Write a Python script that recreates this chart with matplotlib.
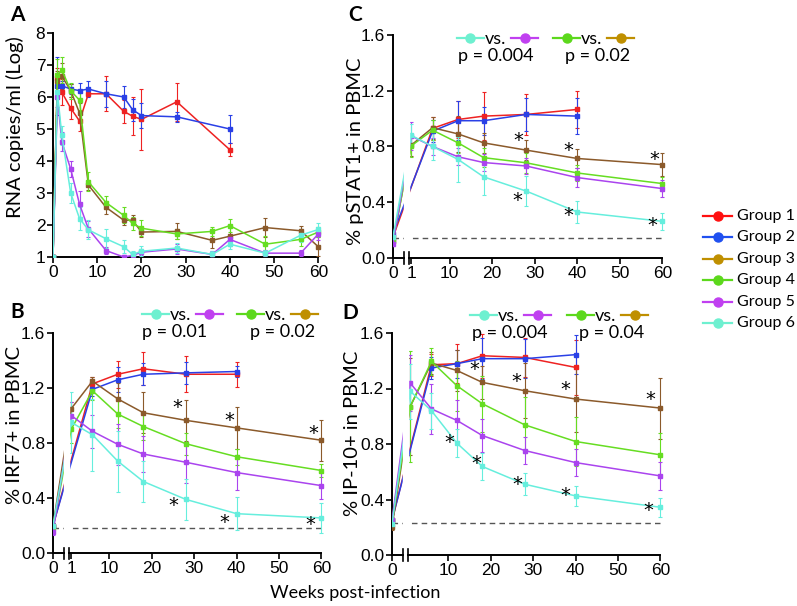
import matplotlib
matplotlib.use("Agg")
import matplotlib.pyplot as plt
from matplotlib.lines import Line2D
import numpy as np

plt.rcParams['font.family'] = ['Lato', 'DejaVu Sans']
TICKFONT = ['Liberation Sans Narrow', 'Liberation Sans', 'DejaVu Sans']

# ---- colours
LINE_COL = {1: '#ee2222', 2: '#2a40e6', 3: '#8b5a2b', 4: '#66dd22', 5: '#aa44ee', 6: '#66eedd'}
KEY_COL = {1: '#ff1010', 2: '#2050f0', 3: '#bf8f00', 4: '#5cd81c', 5: '#c040f0', 6: '#6ef0d0'}

# ---- panel A: RNA copies/ml (Log)
a_t12 = [0, 1, 2, 4, 6, 8, 12, 16, 18, 20, 28, 40]
a_t = [0, 1, 2, 4, 6, 8, 12, 16, 18, 20, 28, 36, 40, 48, 56, 60]
a_g1 = [1, 6.6, 6.15, 5.65, 5.25, 6.1, 6.1, 5.55, 5.4, 5.3, 5.85, 4.35]
a_g1_err = [0, 0.3, 0.4, 0.35, 0.3, 0.05, 0.55, 0.35, 0.6, 0.95, 0.6, 0.2]
a_g2 = [1, 6.35, 6.35, 6.25, 6.2, 6.25, 6.1, 6.0, 5.6, 5.42, 5.38, 5.0]
a_g2_err = [0, 0.9, 0.15, 0.15, 0.25, 0.25, 0.4, 0.35, 0.35, 0.4, 0.15, 0.45]
a_g3 = [1, 6.5, 6.65, 6.2, 5.5, 3.25, 2.55, 2.15, 2.15, 1.78, 1.8, 1.52, 1.65, 1.92, 1.82, 1.32]
a_g3_err = [0, 0.3, 0.4, 0.2, 0.3, 0.15, 0.2, 0.15, 0.15, 0.15, 0.25, 0.25, 0.3, 0.3, 0.15, 0.3]
a_g4 = [1, 6.7, 6.85, 6.2, 5.9, 3.35, 2.7, 2.3, 2.05, 1.9, 1.72, 1.8, 1.98, 1.4, 1.55, 1.78]
a_g4_err = [0, 0.5, 0.4, 0.25, 0.3, 0.3, 0.2, 0.25, 0.2, 0.25, 0.15, 0.15, 0.2, 0.25, 0.2, 0.15]
a_g5 = [1, 6.0, 4.6, 3.75, 2.65, 1.88, 1.2, 1.0, 1.05, 1.15, 1.25, 1.08, 1.55, 1.12, 1.12, 1.72]
a_g5_err = [0, 0.3, 0.3, 0.25, 0.4, 0.25, 0.1, 0.05, 0.1, 0.1, 0.15, 0.1, 0.1, 0.1, 0.1, 0.2]
a_g6 = [1, 6.15, 4.8, 3.0, 2.2, 1.85, 1.57, 1.32, 1.08, 1.18, 1.28, 1.08, 1.4, 1.12, 1.68, 1.86]
a_g6_err = [0, 0.2, 0.3, 0.3, 0.35, 0.3, 0.3, 0.2, 0.1, 0.15, 0.15, 0.1, 0.15, 0.1, 0.2, 0.2]

# ---- panels B-D: week 0 is drawn left of an axis break
ZERO_POS = -3.3
X_MAX = 60.6
t12 = [0, 6, 12, 18, 28, 40]
t = [0, 1, 6, 12, 18, 28, 40, 60]

# B: % IRF7+ in PBMC
b_g1 = [0.2, 1.23, 1.30, 1.34, 1.30, 1.30]
b_g1_err = [0.02, 0.05, 0.10, 0.12, 0.13, 0.09]
b_g2 = [0.2, 1.19, 1.26, 1.30, 1.31, 1.32]
b_g2_err = [0.02, 0.05, 0.09, 0.08, 0.08, 0.04]
b_g3 = [0.2, 1.05, 1.25, 1.12, 1.02, 0.965, 0.91, 0.82]
b_g3_err = [0.02, 0.05, 0.03, 0.12, 0.15, 0.15, 0.15, 0.15]
b_g4 = [0.18, 0.9, 1.18, 1.01, 0.92, 0.795, 0.70, 0.60]
b_g4_err = [0.02, 0.1, 0.07, 0.1, 0.1, 0.08, 0.06, 0.05]
b_g5 = [0.15, 1.0, 0.885, 0.79, 0.72, 0.66, 0.585, 0.49]
b_g5_err = [0.02, 0.1, 0.12, 0.15, 0.13, 0.15, 0.13, 0.1]
b_g6 = [0.2, 0.95, 0.86, 0.667, 0.52, 0.39, 0.286, 0.255]
b_g6_err = [0.02, 0.22, 0.26, 0.22, 0.15, 0.15, 0.12, 0.11]
b_base = 0.18
b_star_x = [26.1, 38.2, 58.0, 25.1, 37.2, 57.4]
b_star_y = [1.055, 0.965, 0.87, 0.344, 0.22, 0.205]

# C: % pSTAT1+ in PBMC
c_g1 = [0.15, 0.93, 0.994, 1.018, 1.03, 1.066]
c_g1_err = [0.02, 0.08, 0.13, 0.17, 0.15, 0.13]
c_g2 = [0.175, 0.91, 0.985, 0.985, 1.03, 1.018]
c_g2_err = [0.02, 0.08, 0.14, 0.10, 0.12, 0.13]
c_g3 = [0.12, 0.81, 0.935, 0.89, 0.826, 0.774, 0.714, 0.67]
c_g3_err = [0.02, 0.08, 0.08, 0.13, 0.07, 0.07, 0.07, 0.08]
c_g4 = [0.12, 0.805, 0.917, 0.826, 0.72, 0.683, 0.61, 0.534]
c_g4_err = [0.02, 0.08, 0.07, 0.07, 0.07, 0.07, 0.06, 0.05]
c_g5 = [0.103, 0.875, 0.80, 0.726, 0.685, 0.66, 0.577, 0.498]
c_g5_err = [0.02, 0.1, 0.06, 0.06, 0.06, 0.06, 0.07, 0.06]
c_g6 = [0.15, 0.88, 0.80, 0.707, 0.582, 0.48, 0.33, 0.263]
c_g6_err = [0.02, 0.08, 0.1, 0.16, 0.13, 0.11, 0.08, 0.06]
c_base = 0.14
c_star_x = [26.2, 37.8, 58.0, 26.0, 38.0, 57.6]
c_star_y = [0.846, 0.77, 0.71, 0.414, 0.307, 0.23]

# D: % IP-10+ in PBMC
d_g1 = [0.25, 1.371, 1.379, 1.436, 1.424, 1.352]
d_g1_err = [0.02, 0.08, 0.14, 0.16, 0.14, 0.2]
d_g2 = [0.25, 1.347, 1.379, 1.415, 1.415, 1.444]
d_g2_err = [0.02, 0.08, 0.1, 0.15, 0.14, 0.14]
d_g3 = [0.2, 1.07, 1.383, 1.33, 1.244, 1.184, 1.124, 1.059]
d_g3_err = [0.02, 0.35, 0.08, 0.15, 0.12, 0.2, 0.24, 0.22]
d_g4 = [0.25, 1.07, 1.395, 1.22, 1.09, 0.938, 0.818, 0.722]
d_g4_err = [0.02, 0.4, 0.1, 0.18, 0.2, 0.2, 0.18, 0.16]
d_g5 = [0.25, 1.239, 1.053, 0.97, 0.861, 0.753, 0.666, 0.57]
d_g5_err = [0.02, 0.2, 0.18, 0.15, 0.12, 0.1, 0.1, 0.1]
d_g6 = [0.22, 1.18, 1.04, 0.806, 0.638, 0.51, 0.426, 0.344]
d_g6_err = [0.02, 0.2, 0.13, 0.1, 0.1, 0.08, 0.07, 0.07]
d_base = 0.23
d_star_x = [16.2, 26.0, 37.6, 57.7, 10.2, 16.5, 26.2, 37.6, 57.1]
d_star_y = [1.34, 1.25, 1.19, 1.12, 0.81, 0.66, 0.51, 0.43, 0.32]

group_names = ['Group 1', 'Group 2', 'Group 3', 'Group 4', 'Group 5', 'Group 6']

W, H = 797, 606
fig = plt.figure(figsize=(W / 100, H / 100), dpi=100)


def px_axes(left, top, right, bottom):
    return fig.add_axes([left / W, 1 - bottom / H, (right - left) / W, (bottom - top) / H])


def xpos(times):
    return [ZERO_POS if v == 0 else v for v in times]


def draw_series(ax, x, y, err, g, broken=True):
    xs = xpos(x) if broken else x
    ax.errorbar(xs, y, yerr=err, color=LINE_COL[g], lw=1.1, elinewidth=0.8,
                capsize=1.5, capthick=0.8, marker='s', ms=2.2, zorder=3)


def style_axes(ax, label, lx, ly):
    for s in ['top', 'right']:
        ax.spines[s].set_visible(False)
    ax.spines['left'].set_linewidth(1.4)
    ax.spines['bottom'].set_linewidth(1.4)
    ax.tick_params(direction='out', length=4, width=1.2, pad=1.5)
    for lab in ax.get_xticklabels() + ax.get_yticklabels():
        lab.set_family(TICKFONT)
        lab.set_fontsize(12.5)
    ax.set_ylabel(label, fontsize=14.5, va='center')
    ax.yaxis.set_label_coords(lx, ly)


def broken_axis(ax, xlabels):
    ax.set_xlim(ZERO_POS, X_MAX)
    ax.set_ylim(0, 1.6)
    ax.set_yticks([0, 0.4, 0.8, 1.2, 1.6])
    ax.set_yticklabels(['0.0', '0.4', '0.8', '1.2', '1.6'])
    ticks = [ZERO_POS] + [v for v in xlabels if v != 0]
    ax.set_xticks(ticks)
    ax.set_xticklabels([str(v) for v in xlabels])
    ax.spines['bottom'].set_visible(False)
    tr = ax.get_xaxis_transform()
    b0, b1 = -0.8, 0.4
    # white gap over the break, like the original figure
    ax.axvspan(b0, b1, color='white', zorder=4)
    ax.plot([ZERO_POS, b0], [0, 0], color='k', lw=1.4, transform=tr, clip_on=False, zorder=5)
    ax.plot([b1, 60], [0, 0], color='k', lw=1.4, transform=tr, clip_on=False, zorder=5)
    for b in (b0, b1):
        ax.plot([b, b], [-0.025, 0.025], color='k', lw=1.2, transform=tr, clip_on=False, zorder=5)


def stars(ax, xs, ys):
    for x, y in zip(xs, ys):
        ax.text(x, y, '*', ha='center', va='center', fontsize=14, family='DejaVu Sans', zorder=6)


def vs_key(x0, y, ca, cb, ptxt, pcx):
    def seg(xa, xb, c):
        fig.add_artist(Line2D([xa / W, xb / W], [1 - y / H, 1 - y / H], color=c, lw=1.6))
        fig.add_artist(Line2D([(xa + xb) / 2 / W], [1 - y / H], color=c, marker='o', ms=6.5))
    seg(x0, x0 + 27, ca)
    fig.text((x0 + 27.5) / W, 1 - (y + 1) / H, 'vs.', fontsize=13, va='center', ha='left')
    seg(x0 + 54, x0 + 81, cb)
    fig.text(pcx / W, 1 - (y + 18) / H, ptxt, fontsize=13, va='center', ha='center')


# ---- panel A
axA = px_axes(53, 33, 321, 257)
for g, (tt, y, e) in enumerate([(a_t12, a_g1, a_g1_err), (a_t12, a_g2, a_g2_err),
                                (a_t, a_g3, a_g3_err), (a_t, a_g4, a_g4_err),
                                (a_t, a_g5, a_g5_err), (a_t, a_g6, a_g6_err)], start=1):
    draw_series(axA, tt, y, e, g, broken=False)
axA.set_xlim(0, X_MAX)
axA.set_ylim(1, 8)
axA.set_yticks(range(1, 9))
axA.set_xticks(range(0, 61, 10))
axA.spines['bottom'].set_bounds(0, 60)
style_axes(axA, 'RNA copies/ml (Log)', (15 - 53) / 268, 0.58)

# ---- panel B
axB = px_axes(53, 333, 324, 553)
for g, (tt, y, e) in enumerate([(t12, b_g1, b_g1_err), (t12, b_g2, b_g2_err),
                                (t, b_g3, b_g3_err), (t, b_g4, b_g4_err),
                                (t, b_g5, b_g5_err), (t, b_g6, b_g6_err)], start=1):
    draw_series(axB, tt, y, e, g)
axB.axhline(b_base, xmax=(60 - ZERO_POS) / (X_MAX - ZERO_POS), color='#555555', lw=1,
            ls=(0, (4, 3)), zorder=2)
stars(axB, b_star_x, b_star_y)
broken_axis(axB, [0, 1, 10, 20, 30, 40, 50, 60])
style_axes(axB, '% IRF7+ in PBMC', (15 - 53) / 271, 0.58)

# ---- panel C
axC = px_axes(393, 35, 665, 258)
for g, (tt, y, e) in enumerate([(t12, c_g1, c_g1_err), (t12, c_g2, c_g2_err),
                                (t, c_g3, c_g3_err), (t, c_g4, c_g4_err),
                                (t, c_g5, c_g5_err), (t, c_g6, c_g6_err)], start=1):
    draw_series(axC, tt, y, e, g)
axC.axhline(c_base, xmax=(60 - ZERO_POS) / (X_MAX - ZERO_POS), color='#555555', lw=1,
            ls=(0, (4, 3)), zorder=2)
stars(axC, c_star_x, c_star_y)
broken_axis(axC, [0, 1, 10, 20, 30, 40, 50, 60])
style_axes(axC, '% pSTAT1+ in PBMC', (355 - 393) / 272, 0.48)

# ---- panel D
axD = px_axes(392, 333, 663, 555)
for g, (tt, y, e) in enumerate([(t12, d_g1, d_g1_err), (t12, d_g2, d_g2_err),
                                (t, d_g3, d_g3_err), (t, d_g4, d_g4_err),
                                (t, d_g5, d_g5_err), (t, d_g6, d_g6_err)], start=1):
    draw_series(axD, tt, y, e, g)
axD.axhline(d_base, xmax=(60 - ZERO_POS) / (X_MAX - ZERO_POS), color='#555555', lw=1,
            ls=(0, (4, 3)), zorder=2)
stars(axD, d_star_x, d_star_y)
broken_axis(axD, [0, 10, 20, 30, 40, 50, 60])
style_axes(axD, '% IP-10+ in PBMC', (353 - 392) / 271, 0.55)

# ---- panel letters
for letter, x, y in [('A', 17, 15), ('B', 17, 312), ('C', 355, 15), ('D', 350, 313)]:
    fig.text(x / W, 1 - y / H, letter, fontsize=15, fontweight='bold', ha='center', va='center')

# ---- "vs." keys
vs_key(142, 314, KEY_COL[6], KEY_COL[5], 'p = 0.01', 175)
vs_key(237, 314, KEY_COL[4], KEY_COL[3], 'p = 0.02', 283)
vs_key(457, 38, KEY_COL[6], KEY_COL[5], 'p = 0.004', 496)
vs_key(553, 38, KEY_COL[4], KEY_COL[3], 'p = 0.02', 598)
vs_key(470, 315, KEY_COL[6], KEY_COL[5], 'p = 0.004', 510)
vs_key(567, 315, KEY_COL[4], KEY_COL[3], 'p = 0.04', 612)

# ---- group legend
for i, name in enumerate(group_names):
    y = 216 + i * 21.4
    c = KEY_COL[i + 1]
    fig.add_artist(Line2D([703 / W, 732 / W], [1 - y / H] * 2, color=c, lw=1.6))
    fig.add_artist(Line2D([717.5 / W], [1 - y / H], color=c, marker='o', ms=6.5))
    fig.text(737 / W, 1 - y / H, name, fontsize=11.5, va='center', ha='left')

fig.text(355 / W, 1 - 593 / H, 'Weeks post-infection', fontsize=13, ha='center', va='center')

fig.savefig('out.png', dpi=100)
